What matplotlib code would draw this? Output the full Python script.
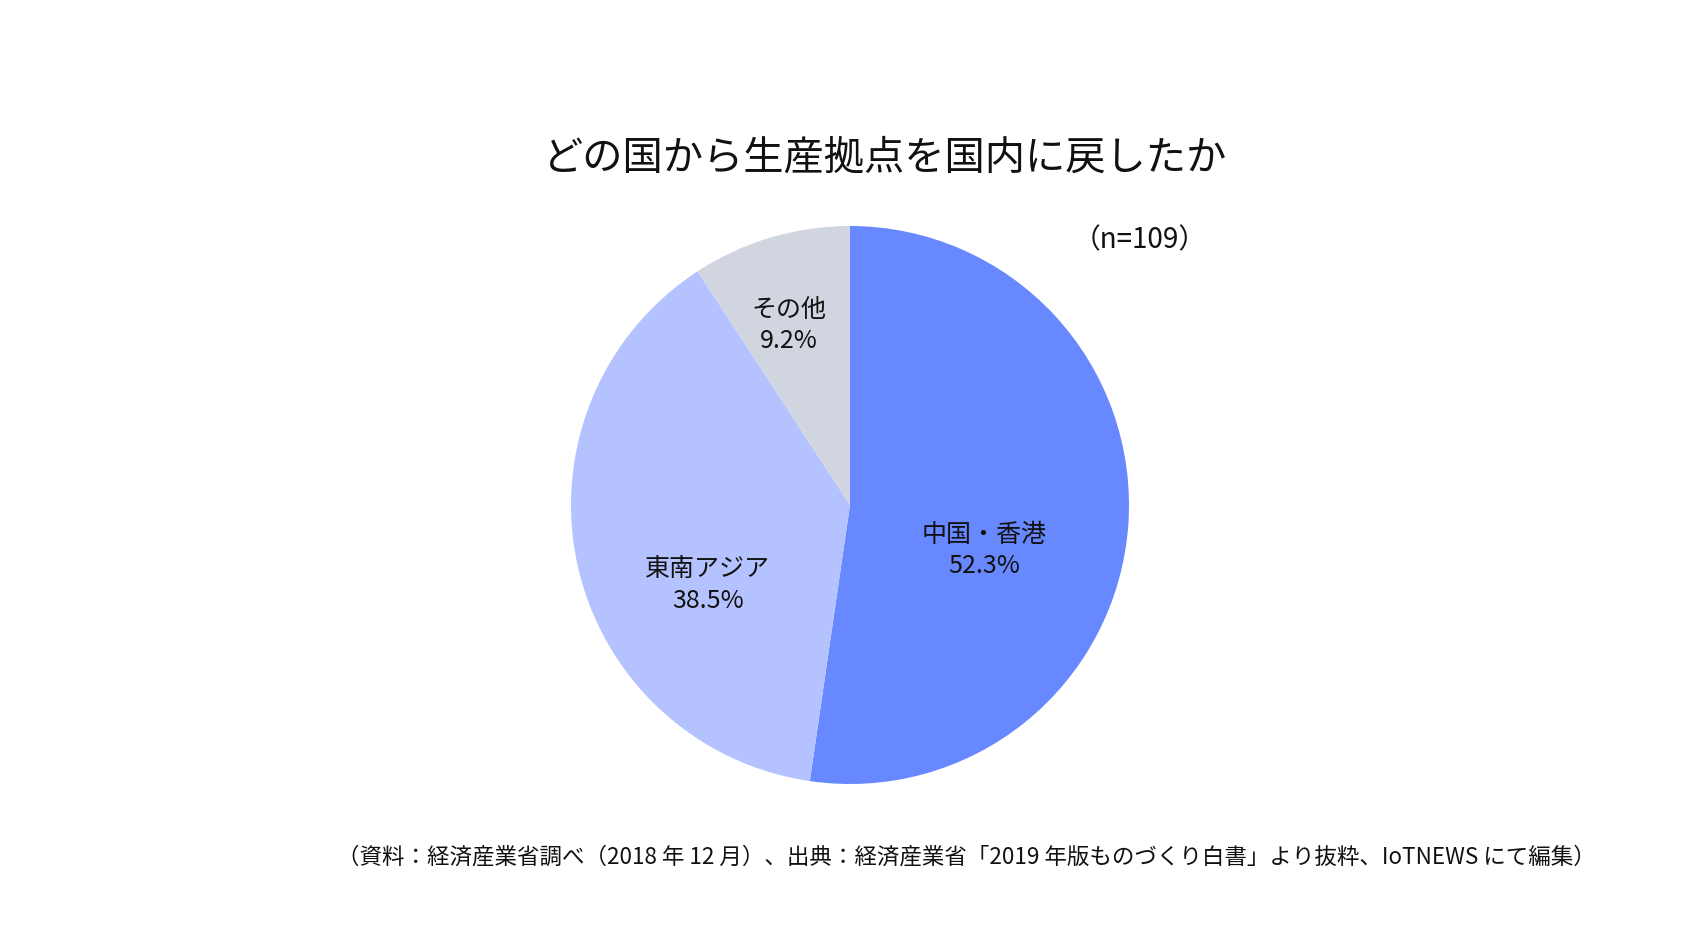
import matplotlib
matplotlib.use("Agg")
import matplotlib.pyplot as plt

plt.rcParams["font.family"] = ["Noto Sans CJK JP", "DejaVu Sans"]

# data
categories = ["中国・香港", "東南アジア", "その他"]
shares     = [52.3, 38.5, 9.2]
colors     = ["#6888FF", "#B4C3FF", "#D0D5E0"]
# label positions inside the pie (pie data units, radius = 1)
label_pos  = [(0.48, -0.163), (-0.51, -0.29), (-0.22, 0.645)]

title    = "どの国から生産拠点を国内に戻したか"
n_note   = "（n=109）"
footnote = ("（資料：経済産業省調べ（2018 年 12 月）、出典：経済産業省「2019 年版ものづくり白書」"
            "より抜粋、IoTNEWS にて編集）")

W, H = 1700, 940
fig = plt.figure(figsize=(W / 100, H / 100), dpi=100)

cx, cy, r = 850, 940 - 505, 279
ax = fig.add_axes([(cx - r) / W, (cy - r) / H, 2 * r / W, 2 * r / H])
ax.pie(shares, colors=colors, startangle=90, counterclock=False,
       radius=1, wedgeprops=dict(linewidth=0))
ax.set_xlim(-1, 1)
ax.set_ylim(-1, 1)
ax.set_aspect("equal")
ax.axis("off")

for name, val, (x, y) in zip(categories, shares, label_pos):
    ax.text(x, y, f"{name}\n{val:.1f}%", ha="center", va="center",
            fontsize=18, linespacing=1.25, color="#111111")

fig.text(885 / W, 1 - 158 / H, title, ha="center", va="center", fontsize=29, color="#111111")
fig.text(1140 / W, 1 - 240 / H, n_note, ha="center", va="center", fontsize=20, color="#111111")
fig.text(1596 / W, 1 - 857 / H, footnote, ha="right", va="center", fontsize=16.2, color="#111111")

fig.savefig("out.png", dpi=100, facecolor="white")
